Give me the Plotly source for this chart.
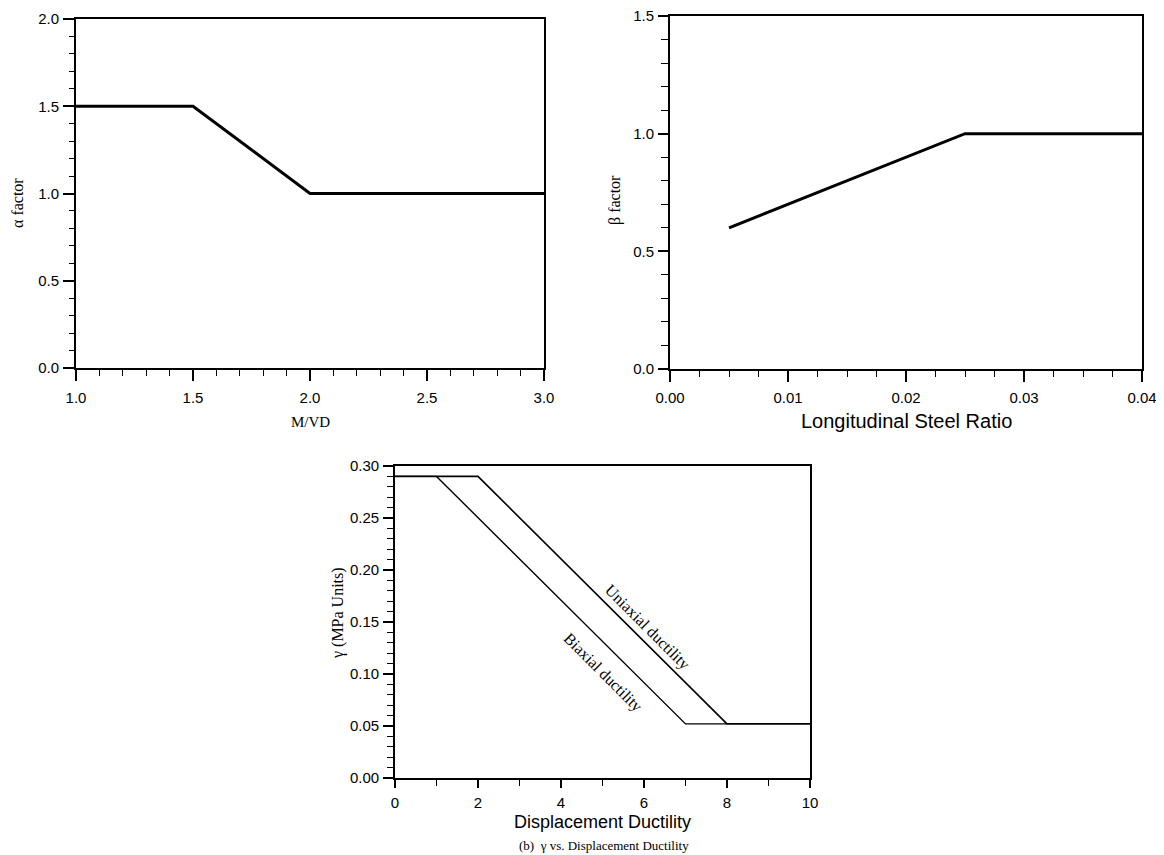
import plotly.graph_objects as go

# page body has an 8px margin; figure is sized to fill the rest of the window
OFF = 8
W, H = 1164 - OFF, 855 - OFF

# ---- data ----
mvd = [1.0, 1.5, 2.0, 3.0]
alpha = [1.5, 1.5, 1.0, 1.0]

steel_ratio = [0.005, 0.025, 0.04]
beta = [0.6, 1.0, 1.0]

duct_uni = [0, 2, 8, 10]
gamma_uni = [0.29, 0.29, 0.052, 0.052]
duct_bi = [0, 1, 7, 8]
gamma_bi = [0.29, 0.29, 0.052, 0.052]

alpha_ticks = [0.0, 0.5, 1.0, 1.5, 2.0]
mvd_ticks = [1.0, 1.5, 2.0, 2.5, 3.0]
beta_ticks = [0.0, 0.5, 1.0, 1.5]
ratio_ticks = [0.00, 0.01, 0.02, 0.03, 0.04]
gamma_ticks = [0.00, 0.05, 0.10, 0.15, 0.20, 0.25, 0.30]
duct_ticks = [0, 2, 4, 6, 8, 10]

SANS = "Liberation Sans, Arial, sans-serif"
SERIF = "Liberation Serif, Times New Roman, serif"


def px_x(p):
    return (p - OFF) / W


def px_y(p):
    return 1 - (p - OFF) / H


fig = go.Figure()

fig.add_trace(go.Scatter(x=mvd, y=alpha, mode="lines", line=dict(color="black", width=3),
                         xaxis="x", yaxis="y", showlegend=False))
fig.add_trace(go.Scatter(x=steel_ratio, y=beta, mode="lines", line=dict(color="black", width=3),
                         xaxis="x2", yaxis="y2", showlegend=False))
fig.add_trace(go.Scatter(x=duct_uni, y=gamma_uni, mode="lines", line=dict(color="black", width=1.6),
                         xaxis="x3", yaxis="y3", showlegend=False))
fig.add_trace(go.Scatter(x=duct_bi, y=gamma_bi, mode="lines", line=dict(color="black", width=1.4),
                         xaxis="x3", yaxis="y3", showlegend=False))


def axis(domain, rng, tickvals, fmt, minor_dtick, ticklen, minorlen, standoff):
    return dict(
        domain=domain, range=rng, tickvals=tickvals, tickformat=fmt, automargin=False,
        showgrid=False, zeroline=False, showline=True, linecolor="black", linewidth=1.8,
        mirror=True, ticks="outside", ticklen=ticklen, tickwidth=1.6, tickcolor="black",
        ticklabelstandoff=standoff, ticklabeloverflow="allow",
        tickfont=dict(family=SANS, size=15, color="black"),
        minor=dict(dtick=minor_dtick, ticks="outside", ticklen=minorlen, tickwidth=1.2,
                   tickcolor="black", showgrid=False),
    )


fig.update_layout(
    width=W, height=H,
    margin=dict(l=0, r=0, t=0, b=0, pad=0),
    paper_bgcolor="white", plot_bgcolor="white",
    xaxis=dict(axis([px_x(76), px_x(544)], [1, 3], mvd_ticks, ".1f", 0.1, 11, 6, 4), anchor="y"),
    yaxis=dict(axis([px_y(368), px_y(19)], [0, 2], alpha_ticks, ".1f", 0.1, 11, 5, 1), anchor="x"),
    xaxis2=dict(axis([px_x(670), px_x(1142)], [0, 0.04], ratio_ticks, ".2f", 0.0025, 11, 6, 3), anchor="y2"),
    yaxis2=dict(axis([px_y(369), px_y(16)], [0, 1.5], beta_ticks, ".1f", 0.1, 10, 7, 1), anchor="x2"),
    xaxis3=dict(axis([px_x(395), px_x(810)], [0, 10], duct_ticks, "d", 1, 8, 6, 2), anchor="y3"),
    yaxis3=dict(axis([px_y(778), px_y(466)], [0, 0.30], gamma_ticks, ".2f", 0.01, 10, 6, 1), anchor="x3"),
)

annotations = [
    dict(text="α factor", x=px_x(17), y=px_y(203), textangle=-90,
         font=dict(family=SERIF, size=16, color="black")),
    dict(text="M/VD", x=px_x(310), y=px_y(422),
         font=dict(family=SERIF, size=15, color="black")),
    dict(text="β factor", x=px_x(615), y=px_y(200), textangle=-90,
         font=dict(family=SERIF, size=16, color="black")),
    dict(text="Longitudinal Steel Ratio", x=px_x(906), y=px_y(421),
         font=dict(family=SANS, size=20, color="black")),
    dict(text="γ (MPa Units)", x=px_x(338), y=px_y(613), textangle=-90,
         font=dict(family=SERIF, size=16, color="black")),
    dict(text="Displacement Ductility", x=px_x(602), y=px_y(822),
         font=dict(family=SANS, size=18, color="black")),
    dict(text="(b)  γ vs. Displacement Ductility", x=px_x(604), y=px_y(845),
         font=dict(family=SERIF, size=13, color="black")),
]
for a in annotations:
    a.update(xref="paper", yref="paper", showarrow=False, xanchor="center", yanchor="middle")
    fig.add_annotation(**a)

fig.add_annotation(text="Uniaxial ductility", x=6.07, y=0.145, xref="x3", yref="y3",
                   textangle=45, showarrow=False,
                   font=dict(family=SERIF, size=16, color="black"))
fig.add_annotation(text="Biaxial ductility", x=5.02, y=0.101, xref="x3", yref="y3",
                   textangle=45, showarrow=False,
                   font=dict(family=SERIF, size=16, color="black"))

fig.write_html("out.html")
